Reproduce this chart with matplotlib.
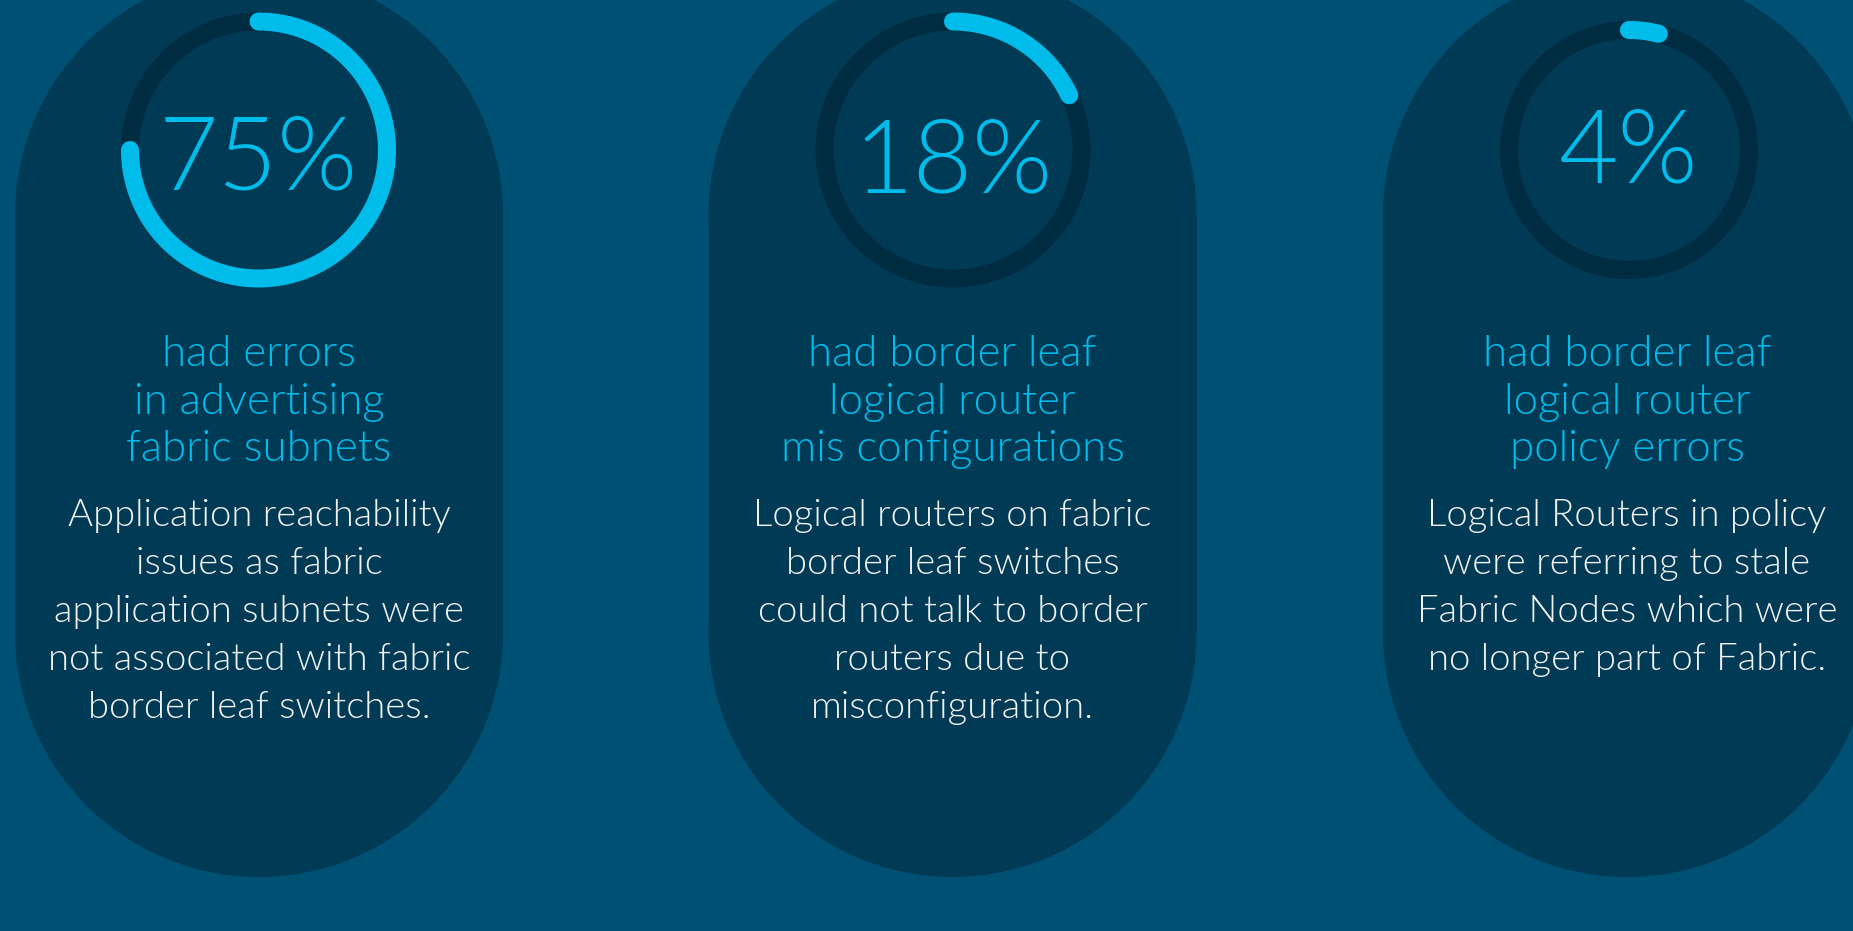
import numpy as np
import matplotlib
matplotlib.use("Agg")
import matplotlib.pyplot as plt
from matplotlib.patches import Circle, Rectangle

# data
percents = [75, 18, 4]
labels = ["75%", "18%", "4%"]
headings = [
    ["had errors", "in advertising", "fabric subnets"],
    ["had border leaf", "logical router", "mis configurations"],
    ["had border leaf", "logical router", "policy errors"],
]
bodies = [
    ["Application reachability", "issues as fabric", "application subnets were",
     "not associated with fabric", "border leaf switches."],
    ["Logical routers on fabric", "border leaf switches", "could not talk to border",
     "routers due to", "misconfiguration."],
    ["Logical Routers in policy", "were referring to stale", "Fabric Nodes which were",
     "no longer part of Fabric."],
]

BG = "#005073"
PILL = "#003a55"
TRACK = "#002c42"
CYAN = "#00bceb"
WHITE = "#f2f2f2"
FONT = ["Lato", "DejaVu Sans"]

W, H = 1853, 931
fig = plt.figure(figsize=(W / 100, H / 100), dpi=100)
fig.patch.set_facecolor(BG)
ax = fig.add_axes([0, 0, 1, 1])
ax.set_xlim(0, W)
ax.set_ylim(H, 0)
ax.set_aspect("equal")
ax.axis("off")

pill_x = [259, 952.5, 1627]
ring_x = [258.5, 953, 1629]
ring_r = [128.5, 128.5, 120]
label_y = [161, 164, 154]
pill_r = 244
pill_top, pill_bot = 215, 633

for i, p in enumerate(percents):
    px = pill_x[i]
    # pill background
    ax.add_patch(Circle((px, pill_top), pill_r, color=PILL, lw=0))
    ax.add_patch(Circle((px, pill_bot), pill_r, color=PILL, lw=0))
    ax.add_patch(Rectangle((px - pill_r, pill_top), 2 * pill_r, pill_bot - pill_top,
                           color=PILL, lw=0))

    # ring track and progress arc (clockwise from 12 o'clock)
    cx, cy, r = ring_x[i], 150, ring_r[i]
    t = np.linspace(0, 2 * np.pi, 400)
    ax.plot(cx + r * np.sin(t), cy - r * np.cos(t), color=TRACK, lw=13)
    t = np.linspace(0, 2 * np.pi * p / 100, 300)
    ax.plot(cx + r * np.sin(t), cy - r * np.cos(t), color=CYAN, lw=13,
            solid_capstyle="round")

    ax.text(cx, label_y[i], labels[i], color=CYAN, fontsize=74, family=FONT,
            fontweight=300, ha="center", va="center")

    for j, line in enumerate(headings[i]):
        ax.text(px, 366 + j * 47.5, line, color=CYAN, fontsize=31.5, family=FONT,
                fontweight=300, ha="center", va="baseline")
    for j, line in enumerate(bodies[i]):
        ax.text(px, 526 + j * 48, line, color=WHITE, fontsize=27.5, family=FONT,
                fontweight=300, ha="center", va="baseline")

fig.savefig("out.png", dpi=100, facecolor=BG)
